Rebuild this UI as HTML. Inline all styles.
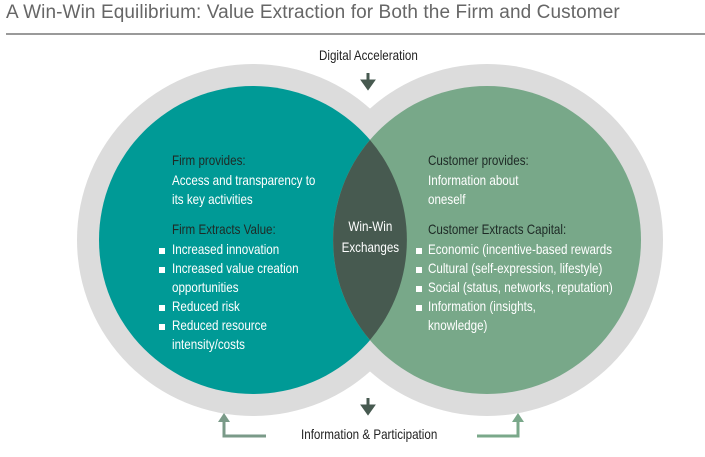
<!DOCTYPE html>
<html><head><style>
body{margin:0;width:705px;height:457px;background:#fff;overflow:hidden;position:relative;font-family:"Liberation Sans",sans-serif}
.t{position:absolute;white-space:nowrap;font-size:14px;line-height:19px;transform:scaleX(0.83);transform-origin:0 0}
.title{position:absolute;left:6px;top:2px;font-size:19px;color:#666;white-space:nowrap;letter-spacing:0.1px}
.h{color:#1e2a26}
.w{color:#fff}
.b{position:absolute;width:6px;height:6px;background:#fff}
</style></head><body>
<div class="title">A Win-Win Equilibrium: Value Extraction for Both the Firm and Customer</div>
<div style="position:absolute;left:6px;top:33px;width:699px;height:2px;background:#9a9a9a"></div>
<svg width="705" height="457" style="position:absolute;left:0;top:0">
<circle cx="253" cy="240" r="176" fill="#dcdcdc"/>
<circle cx="487" cy="240" r="176" fill="#dcdcdc"/>
<circle cx="253" cy="240" r="154" fill="#009a96"/>
<circle cx="487" cy="240" r="154" fill="#78a889"/>
<path d="M370 140 A154 154 0 0 1 370 340 A154 154 0 0 1 370 140Z" fill="#475a50"/>
<path d="M368 73v10M363 81l5 7 5-7z" stroke="#475a50" stroke-width="3" fill="#475a50"/>
<path d="M368 398v10M363 406l5 7 5-7z" stroke="#475a50" stroke-width="3" fill="#475a50"/>
<path d="M266 436H224V420" stroke="#7a9a88" stroke-width="3" fill="none"/>
<path d="M218 422l6-9 6 9z" fill="#7a9a88"/>
<path d="M477 436H518V420" stroke="#7aa88a" stroke-width="3" fill="none"/>
<path d="M512 422l6-9 6 9z" fill="#7aa88a"/>
</svg>
<div class="t" style="left:319px;top:46px;color:#222">Digital Acceleration</div>
<div class="t" style="left:301px;top:425px;color:#222">Information &amp; Participation</div>
<div class="t h" style="left:172px;top:151px">Firm provides:</div>
<div class="t w" style="left:172px;top:171px">Access and transparency to<br>its key activities</div>
<div class="t h" style="left:172px;top:220px">Firm Extracts Value:</div>
<div class="t w" style="left:172px;top:240px">Increased innovation<br>Increased value creation<br>opportunities<br>Reduced risk<br>Reduced resource<br>intensity/costs</div>
<div class="b" style="left:159px;top:248px"></div><div class="b" style="left:159px;top:267px"></div><div class="b" style="left:159px;top:305px"></div><div class="b" style="left:159px;top:324px"></div>
<div class="t w" style="left:338px;top:216px;width:78px;text-align:center;line-height:21px">Win-Win<br>Exchanges</div>
<div class="t h" style="left:428px;top:151px">Customer provides:</div>
<div class="t w" style="left:428px;top:171px">Information about<br>oneself</div>
<div class="t h" style="left:428px;top:220px">Customer Extracts Capital:</div>
<div class="t w" style="left:428px;top:240px">Economic (incentive-based rewards<br>Cultural (self-expression, lifestyle)<br>Social (status, networks, reputation)<br>Information (insights,<br>knowledge)</div>
<div class="b" style="left:416px;top:248px"></div><div class="b" style="left:416px;top:267px"></div><div class="b" style="left:416px;top:286px"></div><div class="b" style="left:416px;top:305px"></div>
</body></html>
